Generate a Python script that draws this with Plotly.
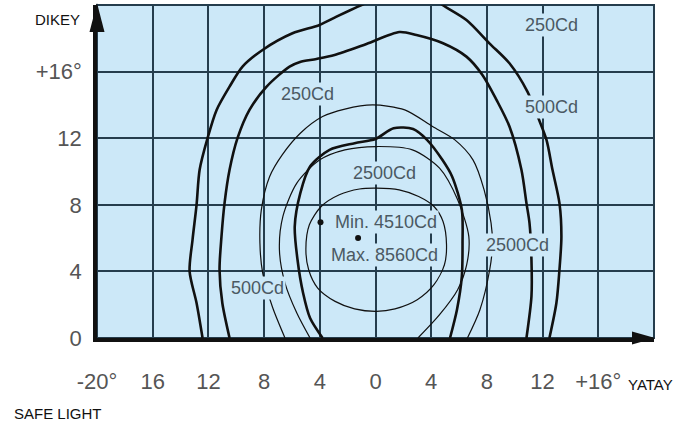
import plotly.graph_objects as go

# ---- data (degrees: horizontal, vertical) ----
t1_x = [-12.42, -12.85, -13.35, -13.14, -12.85, -12.63, -12.06, -11.41, -10.48, -9.55, -8.11, -5.96, -4.02, -2.80, -1.0,
        0.8, 2.6, 4.0, 4.81, 6.53, 8.18, 9.62, 10.91, 11.70, 12.28, 12.71, 13.21, 13.35, 13.21, 12.99, 12.49]
t1_y = [0, 2.1, 4.0, 5.9, 8.0, 10.1, 12.0, 13.7, 15.1, 16.3, 17.3, 18.3, 18.8, 19.3, 20.0,
        20.6, 20.7, 20.5, 20.0, 19.1, 17.7, 16.5, 14.8, 13.2, 11.9, 10.1, 8.1, 6.1, 4.1, 2.1, 0]

t2_x = [-10.48, -11.0, -11.2, -11.06, -10.84, -10.48, -9.91, -9.05, -7.82, -6.17, -5.42, -4.24, -2.94, -0.65, 1.72, 2.94,
        4.81, 6.53, 7.68, 8.69, 9.62, 10.48, 10.84, 11.06, 11.2, 11.2, 10.84]
t2_y = [0, 2.1, 4.1, 6.1, 8.1, 10.1, 12.0, 13.7, 15.1, 16.3, 16.58, 16.76, 17.0, 17.66, 18.38, 18.2,
        17.72, 16.9, 15.8, 14.3, 12.7, 10.1, 8.1, 6.9, 4.7, 2.5, 0]

k_x = [-3.8, -4.7, -5.2, -5.6, -5.8, -5.4, -4.7, -3.3, -1.5, 0.0, 1.3, 2.7, 3.7, 4.8, 5.5, 6.2, 6.25, 6.2, 5.85, 5.35]
k_y = [0, 1.2, 2.7, 4.7, 6.7, 8.7, 10.3, 11.3, 11.7, 11.95, 12.6, 12.55, 11.9, 10.7, 9.7, 7.7, 5.7, 3.7, 1.7, 0]

b_x = [-6.5, -7.4, -8.1, -8.3, -8.2, -7.6, -6.7, -5.4, -3.8, -2.2, -0.2, 2.1, 4.1, 5.7, 7.0, 7.8, 8.3, 8.4, 8.2, 7.5, 6.6]
b_y = [0, 1.86, 3.9, 5.7, 7.7, 9.7, 11.0, 12.3, 13.3, 13.75, 14.0, 13.7, 12.7, 11.9, 10.7, 8.9, 6.9, 5.6, 4.1, 1.7, 0]

m_x = [-4.7, -5.65, -6.5, -6.9, -6.65, -5.65, -4.0, -2.2, 0.05, 2.65, 4.6, 5.9, 6.7, 6.55, 5.9, 4.6, 3.05]
m_y = [0, 1.5, 3.3, 5.3, 7.3, 9.3, 10.7, 11.3, 11.5, 11.3, 10.2, 8.3, 6.1, 4.4, 2.9, 1.4, 0]

e_x = [-5.0, -4.75, -3.9, -2.6, -1.15, 0.07, 1.7, 3.1, 4.2, 4.85, 5.1, 4.95, 4.2, 3.0, 1.4, 0.07, -1.5, -2.9, -4.15, -4.8, -5.0]
e_y = [5.35, 6.8, 7.9, 8.6, 8.95, 9.0, 8.9, 8.5, 7.9, 7.0, 5.6, 4.4, 3.2, 2.3, 1.75, 1.6, 1.75, 2.2, 3.0, 4.1, 5.35]

dot_x = [-3.95, -1.25]
dot_y = [6.95, 6.0]

label_text = ["250Cd", "250Cd", "500Cd", "2500Cd", "Min. 4510Cd", "Max. 8560Cd", "2500Cd", "500Cd"]
label_x = [-4.85, 12.65, 12.65, 0.65, 0.75, 0.65, 10.2, -8.45]
label_y = [14.65, 18.8, 13.9, 9.9, 6.95, 5.0, 5.6, 3.0]

x_ticks = [-20, -16, -12, -8, -4, 0, 4, 8, 12, 16]
x_ticktext = ["-20°", "16", "12", "8", "4", "0", "4", "8", "12", "+16°"]
y_ticks = [0, 4, 8, 12, 16]
y_ticktext = ["0", "4", "8", "12", "+16°"]

BG = "#cce8f8"
GRID = "#253d4d"
LBL = "#4b5963"
FONT = "Liberation Sans, Arial, sans-serif"

fig = go.Figure()
curves = [(t1_x, t1_y, 2.6), (t2_x, t2_y, 2.6), (b_x, b_y, 1.2), (m_x, m_y, 1.2), (k_x, k_y, 2.6), (e_x, e_y, 1.2)]
for xs, ys, w in curves:
    fig.add_trace(go.Scatter(x=xs, y=ys, mode="lines", hoverinfo="skip", showlegend=False,
                             line=dict(color="#111111", width=w, shape="spline", smoothing=0.8)))
fig.add_trace(go.Scatter(x=dot_x, y=dot_y, mode="markers", hoverinfo="skip", showlegend=False,
                         marker=dict(color="#111111", size=6)))

for t, x, y in zip(label_text, label_x, label_y):
    fig.add_annotation(x=x, y=y, text=t, showarrow=False, bgcolor=BG, borderpad=1,
                       font=dict(size=18, color=LBL, family=FONT))

fig.add_annotation(x=-0.0718, y=0.955, xref="paper", yref="paper", text="DIKEY", showarrow=False,
                   xanchor="center", yanchor="middle", font=dict(size=15, color="#111", family=FONT))
fig.add_annotation(x=0.993, y=-0.141, xref="paper", yref="paper", text="YATAY", showarrow=False,
                   xanchor="center", yanchor="middle", font=dict(size=15, color="#111", family=FONT))
fig.add_annotation(x=-0.1526, y=-0.228, xref="paper", yref="paper", text="SAFE LIGHT", showarrow=False,
                   xanchor="left", yanchor="middle", font=dict(size=15, color="#111", family=FONT))

# plot border and axis arrowheads
fig.add_shape(type="rect", xref="paper", yref="paper", x0=0, x1=1, y0=0, y1=1,
              line=dict(color=GRID, width=2), layer="below")
fig.add_shape(type="path", xref="paper", yref="paper", xsizemode="pixel", ysizemode="pixel",
              xanchor=0, yanchor=1, path="M-7.5,-27 L7.5,-27 L0,2 Z",
              fillcolor="#111", line=dict(width=0))
fig.add_shape(type="path", xref="paper", yref="paper", xsizemode="pixel", ysizemode="pixel",
              xanchor=1, yanchor=0, path="M-22,6.5 L-22,-6.5 L1,0 Z",
              fillcolor="#111", line=dict(width=0))

fig.update_xaxes(range=[-20, 20], tickvals=x_ticks, ticktext=x_ticktext, showgrid=True,
                 gridcolor=GRID, gridwidth=1.6, zeroline=False, showline=True, linecolor="#111",
                 linewidth=3.5, ticks="", ticklabelstandoff=21,
                 tickfont=dict(size=22, color="#555", family=FONT))
fig.update_yaxes(range=[0, 20], tickvals=y_ticks, ticktext=y_ticktext, showgrid=True,
                 gridcolor=GRID, gridwidth=1.6, zeroline=False, showline=True, linecolor="#111",
                 linewidth=3.5, ticks="", ticklabelstandoff=7,
                 tickfont=dict(size=22, color="#555", family=FONT))

fig.update_layout(width=698, height=427, margin=dict(l=97, r=44, t=5, b=89),
                  plot_bgcolor=BG, paper_bgcolor="white", font=dict(family=FONT))

fig.write_html("out.html", config={"displayModeBar": False},
               post_script="document.body.style.margin='0px';")
